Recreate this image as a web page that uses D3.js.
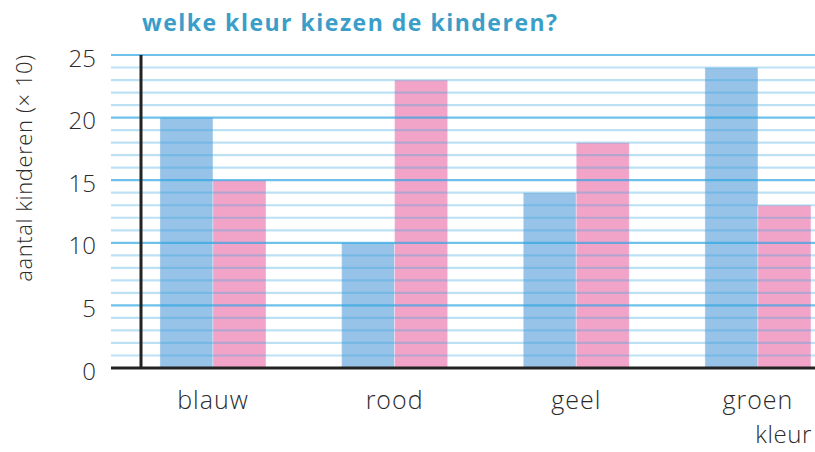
<!DOCTYPE html>
<html>
<head>
<meta charset="utf-8">
<script src="https://cdn.jsdelivr.net/npm/d3@7"></script>
<style>
  html, body { margin: 0; padding: 0; background: #fff; }
  svg { display: block; }
  text { font-family: "Open Sans", Lato, sans-serif; }
</style>
</head>
<body>
<svg id="chart" width="815" height="452"></svg>
<script>
// Data
const categories = ["blauw", "rood", "geel", "groen"];
const series = ["jongens", "meisjes"];
const jongens = [20, 10, 14, 24];
const meisjes = [15, 23, 18, 13];
const yTicks = [0, 5, 10, 15, 20, 25];
const gridValues = d3.range(1, 26);

const colors = { jongens: "#97c3e8", meisjes: "#f2a4c8" };

const svg = d3.select("#chart");

const y = d3.scaleLinear().domain([0, 25]).range([368, 55]);
const x = d3.scaleBand().domain(categories).range([141.8, 829.1])
  .paddingInner(0.4165).paddingOuter(0.1);
const xs = d3.scaleBand().domain(series).range([0, x.bandwidth()]);

const gridLeft = 111, gridRight = 815;

// Bars
const rows = categories.map((c, i) => ({ cat: c, jongens: jongens[i], meisjes: meisjes[i] }));
const groups = svg.append("g").selectAll("g").data(rows).join("g")
  .attr("transform", d => `translate(${x(d.cat)},0)`);
groups.selectAll("rect")
  .data(d => series.map(s => ({ s, v: d[s] })))
  .join("rect")
  .attr("x", d => xs(d.s))
  .attr("width", xs.bandwidth())
  .attr("y", d => y(d.v))
  .attr("height", d => y(0) - y(d.v))
  .attr("fill", d => colors[d.s])
  .attr("stroke", "#ffffff")
  .attr("stroke-opacity", 0.35)
  .attr("stroke-width", 1);

// Gridlines, drawn over the bars
svg.append("g").selectAll("line")
  .data(gridValues)
  .join("line")
  .attr("x1", gridLeft).attr("x2", gridRight)
  .attr("y1", d => y(d)).attr("y2", d => y(d))
  .attr("stroke", d => d % 5 === 0 ? "#2aa3e0" : "#3aa8e0")
  .attr("stroke-opacity", d => d % 5 === 0 ? 0.68 : 0.34)
  .attr("stroke-width", 2.2);

// Axes lines
svg.append("line")
  .attr("x1", 141).attr("x2", 141)
  .attr("y1", y(25)).attr("y2", y(0))
  .attr("stroke", "#222").attr("stroke-width", 3);
svg.append("line")
  .attr("x1", gridLeft).attr("x2", gridRight)
  .attr("y1", y(0)).attr("y2", y(0))
  .attr("stroke", "#222").attr("stroke-width", 3);

// Y tick labels
svg.append("g").selectAll("text")
  .data(yTicks)
  .join("text")
  .attr("x", 96)
  .attr("y", d => y(d) + 2)
  .attr("text-anchor", "end")
  .attr("dominant-baseline", "central")
  .attr("font-size", 24)
  .attr("font-weight", 300)
  .attr("fill", "#2b2b2b")
  .text(d => d);

// X category labels
svg.append("g").selectAll("text")
  .data(categories)
  .join("text")
  .attr("x", d => x(d) + x.bandwidth() / 2)
  .attr("y", 409)
  .attr("text-anchor", "middle")
  .attr("font-size", 25)
  .attr("font-weight", 300)
  .attr("letter-spacing", 1)
  .attr("fill", "#2b2b2b")
  .text(d => d);

// Axis titles
svg.append("text")
  .attr("x", 812).attr("y", 443)
  .attr("text-anchor", "end")
  .attr("font-size", 24).attr("font-weight", 300)
  .attr("letter-spacing", 0.6)
  .attr("fill", "#2b2b2b")
  .text("kleur");

svg.append("text")
  .attr("transform", "translate(32,168) rotate(-90)")
  .attr("text-anchor", "middle")
  .attr("font-size", 22).attr("font-weight", 300)
  .attr("letter-spacing", 0.6)
  .attr("fill", "#2b2b2b")
  .text("aantal kinderen (× 10)");

// Title
svg.append("text")
  .attr("x", 142).attr("y", 31)
  .attr("font-size", 23).attr("font-weight", 700)
  .attr("letter-spacing", 1.5)
  .attr("fill", "#3a9ec9")
  .text("welke kleur kiezen de kinderen?");
</script>
</body>
</html>
